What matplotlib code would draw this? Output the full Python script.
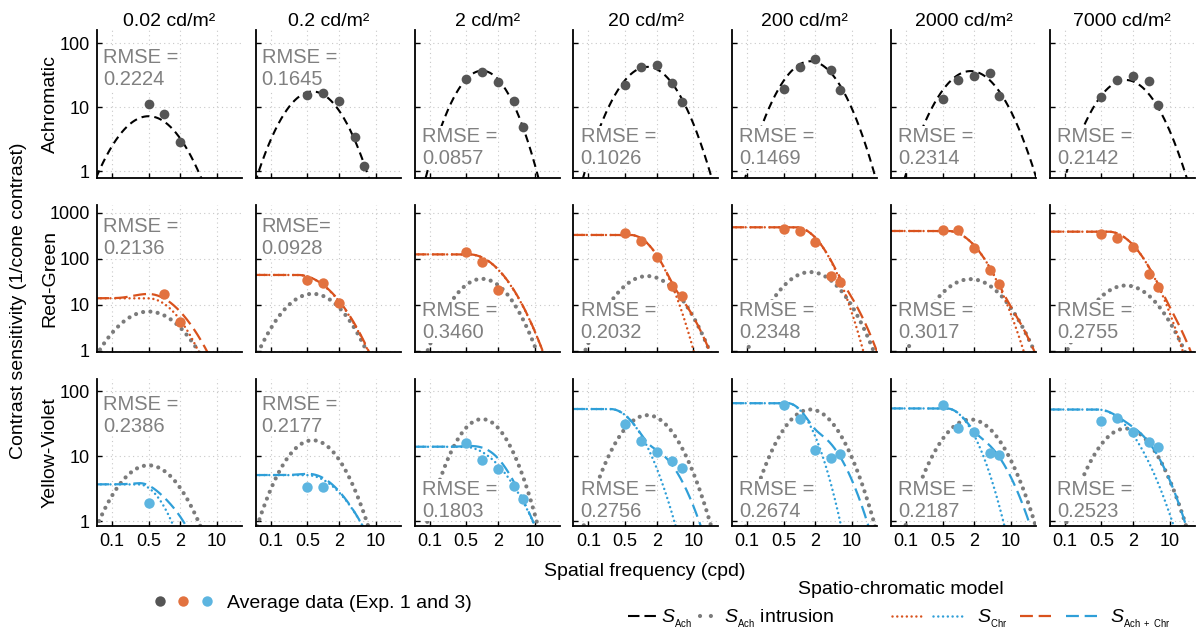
import numpy as np
import matplotlib
matplotlib.use("Agg")
import matplotlib.pyplot as plt
from matplotlib.lines import Line2D
from matplotlib.legend_handler import HandlerTuple

plt.rcParams['font.family'] = ['Liberation Sans', 'DejaVu Sans']
plt.rcParams['mathtext.fontset'] = 'custom'
plt.rcParams['mathtext.rm'] = 'Liberation Sans'
plt.rcParams['mathtext.it'] = 'Liberation Sans:italic'

# ---------------- data ----------------
luminances = ["0.02 cd/m²", "0.2 cd/m²", "2 cd/m²", "20 cd/m²", "200 cd/m²", "2000 cd/m²", "7000 cd/m²"]
row_names = ["Achromatic", "Red-Green", "Yellow-Violet"]

freqs_full = [0.5, 1, 2, 4, 6]

ach_freqs = [[0.5, 1, 2], freqs_full, freqs_full, freqs_full, freqs_full, freqs_full, freqs_full]
ach_data = [[11, 7.7, 2.8],
            [15.4, 16.7, 12.3, 3.4, 1.2],
            [27.7, 35.6, 24.3, 12.5, 4.9],
            [21.8, 41.7, 45.3, 23.5, 12.1],
            [18.9, 42.6, 55.6, 37.8, 18.4],
            [13.3, 26.4, 30.8, 34.4, 15.0],
            [14.3, 26.4, 30.8, 25.5, 10.7]]

rg_freqs = [[1, 2], [0.5, 1, 2], [0.5, 1, 2], freqs_full, freqs_full, freqs_full, freqs_full]
rg_data = [[17.1, 4.3],
           [34.9, 30.5, 10.9],
           [144, 87, 21.2],
           [361, 246, 110, 26.3, 16],
           [443, 406, 238, 43, 31],
           [427, 427, 171, 58, 28.6],
           [344, 282, 185, 46, 25]]

yv_freqs = [[0.5], [0.5, 1], freqs_full, freqs_full, freqs_full, freqs_full, freqs_full]
yv_data = [[1.87],
           [3.37, 3.37],
           [15.7, 8.7, 6.4, 3.5, 2.2],
           [31, 17, 11.6, 8.5, 6.6],
           [61, 37, 12.4, 9.2, 10.7],
           [62, 27.3, 23.4, 11, 10.3],
           [34.5, 38, 23.6, 16.6, 13.9]]

# fitted model parameters
ach_peak = [7.2, 17.5, 37, 42.5, 52, 36.5, 26.5]
ach_fpeak = [0.5, 0.63, 1.0, 1.33, 1.6, 1.7, 1.45]
ach_width = [1.02, 0.92, 0.83, 0.93, 0.92, 0.97, 0.94]

rg_peak = [14, 45, 126, 333, 489, 406, 393]
rg_fcut = [0.48, 0.32, 0.56, 0.63, 0.84, 0.63, 0.67]
rg_width = [0.90, 1.05, 0.97, 0.76, 0.785, 0.893, 0.882]
rg_intrusion = [2.1, 0.8, 1.0, 1.0, 1.5, 1.0, 2.0]

yv_peak = [3.67, 5.1, 13.9, 52.9, 65, 54, 52]
yv_fcut = [0.32, 0.47, 0.45, 0.26, 0.58, 0.59, 0.42]
yv_width = [0.833, 1.22, 1.228, 0.93, 0.747, 0.822, 1.085]
yv_intrusion = [0.36, 0.2, 0.3, 0.31, 0.45, 0.55, 1.0]

rmse_ach = ["0.2224", "0.1645", "0.0857", "0.1026", "0.1469", "0.2314", "0.2142"]
rmse_rg = ["0.2136", "0.0928", "0.3460", "0.2032", "0.2348", "0.3017", "0.2755"]
rmse_yv = ["0.2386", "0.2177", "0.1803", "0.2756", "0.2674", "0.2187", "0.2523"]

xticks = [0.1, 0.5, 2, 10]
xticklabels = ["0.1", "0.5", "2", "10"]

# ---------------- models ----------------
def ach_model(f, peak, fpk, w):
    return 10 ** (np.log10(peak) - ((np.log10(f) - np.log10(fpk)) / w) ** 2)

def chr_model(f, peak, fc, w):
    d = np.clip(np.log10(f) - np.log10(fc), 0, None)
    return 10 ** (np.log10(peak) - (d / w) ** 2)

def combined(chrom, ach, k, beta=4.0):
    return (chrom ** beta + (k * ach) ** beta) ** (1.0 / beta)

# ---------------- styles ----------------
C_GREY_DATA = '#555555'
C_INTR = '#7b7b7b'
C_OR_LINE = '#d9521d'
C_OR_DATA = '#e2723f'
C_BL_LINE = '#2f9fd8'
C_BL_DATA = '#5db5e0'
C_RMSE = '#808080'

ACH_LS = (0, (3.8, 2.4))
INTR_LS = (0, (0.01, 1.75))
CHR_LS = (0, (0.01, 1.9))
COMB_LS = (0, (5.8, 2.6))

W, H = 1202, 634
fig = plt.figure(figsize=(W / 100, H / 100), dpi=100)

col_left = [97 + 158.8 * k for k in range(7)]
ax_w = 145
row_top = [30, 205, 379]
row_h = [148, 147, 147]
row_ylim = [(0.78, 160), (0.95, 1490), (0.84, 153)]
row_yticks = [[1, 10, 100], [1, 10, 100, 1000], [1, 10, 100]]
rmse_top = [[True, True, False, False, False, False, False],
            [True, True, False, False, False, False, False],
            [True, True, False, False, False, False, False]]
rmse_top_y = [0.878, 0.917, 0.893]
rmse_bot_y = [0.067, 0.068, 0.036]

f = np.logspace(np.log10(0.05), np.log10(32), 500)

for r in range(3):
    for c in range(7):
        ax = fig.add_axes([col_left[c] / W, 1 - (row_top[r] + row_h[r]) / H, ax_w / W, row_h[r] / H])
        ax.set_xscale('log')
        ax.set_yscale('log')
        ax.set_xlim(0.052, 30)
        ax.set_ylim(*row_ylim[r])
        for s in ['top', 'right']:
            ax.spines[s].set_visible(False)
        for s in ['left', 'bottom']:
            ax.spines[s].set_linewidth(1.3)
        ax.set_xticks(xticks)
        ax.set_yticks(row_yticks[r])
        ax.minorticks_off()
        ax.tick_params(direction='in', length=3.5, width=1.0, labelsize=13, pad=5)
        if r == 2:
            ax.set_xticklabels(xticklabels)
        else:
            ax.set_xticklabels([])
        if c == 0:
            ax.set_yticklabels([str(v) for v in row_yticks[r]])
        else:
            ax.set_yticklabels([])
        ax.grid(True, which='major', linestyle=(0, (1, 3)), color='#c8c8c8', linewidth=0.8)

        ach = ach_model(f, ach_peak[c], ach_fpeak[c], ach_width[c])
        if r == 0:
            ax.plot(f, ach, color='black', lw=1.5, ls=ACH_LS, zorder=2)
            ax.plot(ach_freqs[c], ach_data[c], 'o', color=C_GREY_DATA, ms=7, mec='none', zorder=3)
            rm = rmse_ach[c]
        else:
            if r == 1:
                chrom = chr_model(f, rg_peak[c], rg_fcut[c], rg_width[c])
                comb = combined(chrom, ach, rg_intrusion[c])
                lc, dc = C_OR_LINE, C_OR_DATA
                fx, fy = rg_freqs[c], rg_data[c]
                rm = rmse_rg[c]
            else:
                chrom = chr_model(f, yv_peak[c], yv_fcut[c], yv_width[c])
                comb = combined(chrom, ach, yv_intrusion[c])
                lc, dc = C_BL_LINE, C_BL_DATA
                fx, fy = yv_freqs[c], yv_data[c]
                rm = rmse_yv[c]
            ax.plot(f, ach, color=C_INTR, lw=3.0, ls=INTR_LS, dash_capstyle='round', zorder=2)
            ax.plot(f, chrom, color=lc, lw=1.8, ls=CHR_LS, dash_capstyle='round', zorder=2.1)
            ax.plot(f, comb, color=lc, lw=1.6, ls=COMB_LS, zorder=2.2)
            ax.plot(fx, fy, 'o', color=dc, ms=7.5, mec='none', zorder=3)

        label = ("RMSE=\n" if (r == 1 and c == 1) else "RMSE =\n") + rm
        if rmse_top[r][c]:
            ax.text(0.04, rmse_top_y[r], label, transform=ax.transAxes, ha='left', va='top',
                    fontsize=14.5, color=C_RMSE, zorder=2.4, linespacing=1.2,
                    bbox=dict(facecolor='white', edgecolor='none', pad=0.5))
        else:
            ax.text(0.05, rmse_bot_y[r], label, transform=ax.transAxes, ha='left', va='bottom',
                    fontsize=14.5, color=C_RMSE, zorder=2.4, linespacing=1.2,
                    bbox=dict(facecolor='white', edgecolor='none', pad=0.5))

        if r == 0:
            ax.set_title(luminances[c], fontsize=14, pad=0.5)

# row labels and axis labels
row_centers = [row_top[i] + row_h[i] / 2 for i in range(3)]
for i, name in enumerate(row_names):
    fig.text(50 / W, 1 - row_centers[i] / H, name, rotation=90, ha='center', va='center', fontsize=14)
fig.text(19 / W, 1 - 301 / H, "Contrast sensitivity (1/cone contrast)", rotation=90,
         ha='center', va='center', fontsize=14)
fig.text(645 / W, 1 - 571 / H, "Spatial frequency (cpd)", ha='center', va='center', fontsize=14)

# ---------------- legends ----------------
FS = 14
common = dict(frameon=False, fontsize=FS, borderpad=0, borderaxespad=0, loc='center left')

h_data = (Line2D([], [], marker='o', ls='none', color=C_GREY_DATA, ms=7.5, mec='none'),
          Line2D([], [], marker='o', ls='none', color=C_OR_DATA, ms=7.5, mec='none'),
          Line2D([], [], marker='o', ls='none', color=C_BL_DATA, ms=7.5, mec='none'))
fig.legend([h_data], ["Average data (Exp. 1 and 3)"],
           handler_map={tuple: HandlerTuple(ndivide=None, pad=0)},
           handlelength=3.63, handletextpad=0.45,
           bbox_to_anchor=(148 / W, 1 - 603 / H), **common)

fig.text(901 / W, 1 - 590 / H, "Spatio-chromatic model", ha='center', va='center', fontsize=FS)

ly = 1 - 619 / H
h_ach = Line2D([], [], color='black', lw=1.5, ls=(0, (5.5, 2.4)))
fig.legend([h_ach], [r"$S_{_{\mathrm{Ach}}}$"], handlelength=1.44, handletextpad=0.26,
           bbox_to_anchor=(628 / W, ly), **common)

h_intr = Line2D([], [], color=C_INTR, lw=3.0, ls=(0, (0.01, 2.6)), dash_capstyle='round')
fig.legend([h_intr], [r"$S_{_{\mathrm{Ach}}}$ intrusion"], handlelength=0.8, handletextpad=0.45,
           bbox_to_anchor=(700 / W, ly), **common)

h_chr = (Line2D([], [], color=C_OR_LINE, lw=1.8, ls=CHR_LS, dash_capstyle='round'),
         Line2D([], [], color=C_BL_LINE, lw=1.8, ls=CHR_LS, dash_capstyle='round'))
fig.legend([h_chr], [r"$S_{_{\mathrm{Chr}}}$"], handler_map={tuple: HandlerTuple(ndivide=None, pad=0.57)},
           handlelength=3.65, handletextpad=0.7, bbox_to_anchor=(892 / W, ly), **common)

h_comb = (Line2D([], [], color=C_OR_LINE, lw=1.6, ls=COMB_LS),
          Line2D([], [], color=C_BL_LINE, lw=1.6, ls=COMB_LS))
fig.legend([h_comb], [r"$S_{_{\mathrm{Ach\ +\ Chr}}}$"], handler_map={tuple: HandlerTuple(ndivide=None, pad=0.77)},
           handlelength=3.96, handletextpad=0.65, bbox_to_anchor=(1020 / W, ly), **common)

fig.savefig("out.png", dpi=100)
